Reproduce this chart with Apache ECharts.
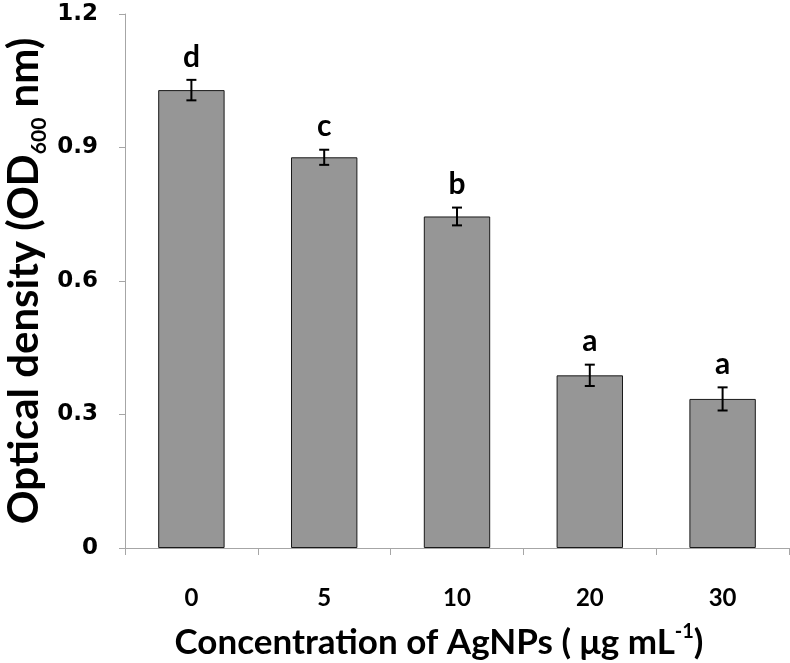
<!DOCTYPE html>
<html>
<head>
<meta charset="utf-8">
<script src="https://cdn.jsdelivr.net/npm/echarts@6/dist/echarts.min.js"></script>
<style>html,body{margin:0;padding:0;background:#fff;overflow:hidden}#c{width:790px;height:663px}</style>
</head>
<body>
<div id="c"></div>
<script>
var categories = ['0', '5', '10', '20', '30'];
var values = [1.029, 0.878, 0.745, 0.388, 0.335];
var errors = [0.023, 0.017, 0.020, 0.024, 0.026];
var letters = ['d', 'c', 'b', 'a', 'a'];
var yTicks = [0, 0.3, 0.6, 0.9, 1.2];

var chart = echarts.init(document.getElementById('c'));
var errData = values.map(function (v, i) { return [i, v, errors[i], letters[i]]; });

chart.setOption({
  animation: false,
  backgroundColor: '#fff',
  grid: { left: 125, right: 1, top: 14, bottom: 115, containLabel: false, outerBoundsMode: 'none' },
  xAxis: {
    type: 'category',
    data: categories,
    axisLine: { lineStyle: { color: '#a6a6a6', width: 1 } },
    axisTick: { show: true, length: 7, lineStyle: { color: '#a6a6a6' } },
    axisLabel: { margin: 38, color: '#000', fontFamily: 'Lato', fontWeight: 'bold', fontSize: 24 },
    name: '{m|Concentration of AgNPs ( μg mL}{s|-1}{m|)}',
    nameLocation: 'middle',
    nameGap: 74,
    nameTextStyle: {
      color: '#000', fontFamily: 'Lato', fontWeight: 'bold', fontSize: 35,
      padding: [0, 36, 0, 0],
      rich: {
        m: { fontFamily: 'Lato', fontWeight: 'bold', fontSize: 35, color: '#000', verticalAlign: 'bottom' },
        s: { fontFamily: 'Lato', fontWeight: 'bold', fontSize: 20, color: '#000', verticalAlign: 'bottom', padding: [0, 0, 18, 0] }
      }
    }
  },
  yAxis: {
    type: 'value',
    min: yTicks[0],
    max: yTicks[yTicks.length - 1],
    interval: 0.3,
    splitLine: { show: false },
    axisLine: { show: true, lineStyle: { color: '#a6a6a6', width: 1 } },
    axisTick: { show: true, length: 6, lineStyle: { color: '#a6a6a6' } },
    axisLabel: { margin: 27, color: '#000', fontFamily: 'DejaVu Sans', fontWeight: 'bold', fontSize: 23 },
    name: '{m|Optical density (OD}{b|600}{m| nm)}',
    nameLocation: 'middle',
    nameGap: 75,
    nameRotate: 90,
    nameMoveOverlap: false,
    nameTextStyle: {
      color: '#000', fontFamily: 'Lato', fontWeight: 'bold', fontSize: 42,
      rich: {
        m: { fontFamily: 'Lato', fontWeight: 'bold', fontSize: 42, lineHeight: 42, color: '#000', verticalAlign: 'bottom', padding: [0, 0, 5, 0] },
        b: { fontFamily: 'Lato', fontWeight: 'bold', fontSize: 21, color: '#000', verticalAlign: 'bottom' }
      }
    }
  },
  series: [
    {
      type: 'bar',
      data: values,
      barWidth: '50%',
      itemStyle: { color: '#969696', borderColor: '#1a1a1a', borderWidth: 1 }
    },
    {
      type: 'custom',
      data: errData,
      z: 10,
      renderItem: function (params, api) {
        var i = api.value(0), v = api.value(1), e = api.value(2);
        var top = api.coord([i, v + e]);
        var bot = api.coord([i, v - e]);
        var hw = 5;
        var st = { stroke: '#000', lineWidth: 2 };
        return {
          type: 'group',
          children: [
            { type: 'line', shape: { x1: top[0], y1: top[1], x2: bot[0], y2: bot[1] }, style: st },
            { type: 'line', shape: { x1: top[0] - hw, y1: top[1], x2: top[0] + hw, y2: top[1] }, style: st },
            { type: 'line', shape: { x1: bot[0] - hw, y1: bot[1], x2: bot[0] + hw, y2: bot[1] }, style: st },
            { type: 'text', style: { text: letters[params.dataIndex], x: top[0], y: top[1] - 8,
                textAlign: 'center', textVerticalAlign: 'bottom',
                font: 'bold 30px Lato', fill: '#000' } }
          ]
        };
      }
    }
  ]
});
</script>
</body>
</html>
